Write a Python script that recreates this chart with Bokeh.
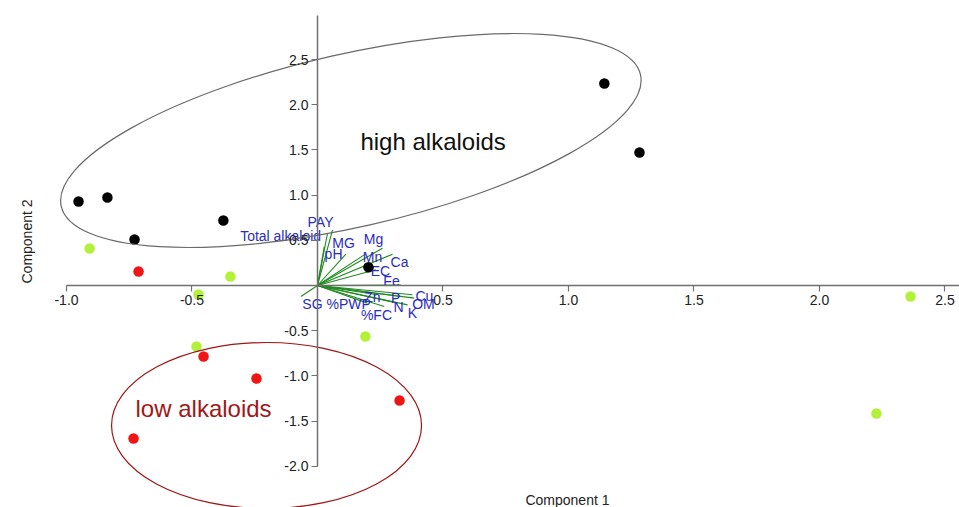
import math
from bokeh.plotting import figure
from bokeh.models import Range1d, FixedTicker
from bokeh.core.properties import value
from bokeh.embed import file_html
from bokeh.resources import INLINE

# ---- data ----
high_x = [-0.952, -0.837, -0.729, -0.375, 1.143, 1.283, 0.203]
high_y = [0.929, 0.973, 0.509, 0.719, 2.235, 1.471, 0.202]

mid_x = [-0.908, -0.347, -0.474, -0.482, 0.191, 2.363, 2.227]
mid_y = [0.409, 0.100, -0.100, -0.675, -0.564, -0.122, -1.416]

low_x = [-0.713, -0.454, -0.243, 0.327, -0.733]
low_y = [0.155, -0.785, -1.029, -1.272, -1.692]

var_names = ["PAY", "Total alkaloid", "pH", "MG", "Mg", "Ca", "Mn", "EC", "Fe",
             "Cu", "OM", "K", "N", "P", "Zn", "%FC", "%PWP", "SG"]
load_x = [0.060, 0.040, 0.027, 0.113, 0.259, 0.299, 0.186, 0.232, 0.332,
          0.378, 0.385, 0.359, 0.319, 0.332, 0.239, 0.266, 0.199, -0.066]
load_y = [0.616, 0.579, 0.431, 0.347, 0.413, 0.347, 0.339, 0.174, 0.005,
          -0.103, -0.140, -0.214, -0.195, -0.122, -0.103, -0.232, -0.195, -0.122]
label_x = [0.012, -0.147, 0.064, 0.104, 0.223, 0.327, 0.219, 0.251, 0.295,
           0.426, 0.422, 0.378, 0.323, 0.311, 0.219, 0.235, 0.124, -0.020]
label_y = [0.697, 0.553, 0.354, 0.465, 0.509, 0.265, 0.310, 0.155, 0.055,
           -0.111, -0.210, -0.299, -0.243, -0.133, -0.122, -0.321, -0.210, -0.210]

x_ticks = [-1.0, -0.5, 0.5, 1.0, 1.5, 2.0, 2.5]
x_tick_labels = ["-1.0", "-0.5", "0.5", "1.0", "1.5", "2.0", "2.5"]
y_ticks = [-2.0, -1.5, -1.0, -0.5, 0.5, 1.0, 1.5, 2.0, 2.5]
y_tick_labels = ["-2.0", "-1.5", "-1.0", "-0.5", "0.5", "1.0", "1.5", "2.0", "2.5"]

groups = ["high alkaloids", "low alkaloids"]
group_cx = [0.133, -0.203]
group_cy = [1.604, -1.549]
group_text_x = [0.171, -0.725]
group_text_y = [1.593, -1.360]

axis_titles = ["Component 1", "Component 2"]
axis_title_x = [0.996, -1.159]
axis_title_y = [-2.378, 0.487]

FONT = "Liberation Sans"

p = figure(width=959, height=507,
           x_range=Range1d(-1.263, 2.558), y_range=Range1d(-2.456, 3.153),
           output_backend="svg", toolbar_location=None,
           min_border=0)
p.grid.visible = False
p.outline_line_color = None
p.background_fill_color = "white"

for ax in (p.xaxis, p.yaxis):
    ax.fixed_location = 0
    ax.axis_line_color = "#707070"
    ax.axis_line_width = 1.5
    ax.major_tick_line_color = "#707070"
    ax.major_tick_line_width = 1.2
    ax.major_tick_out = 6
    ax.major_tick_in = 0
    ax.minor_tick_out = 0
    ax.minor_tick_in = 0
    ax.major_label_text_font = FONT
    ax.major_label_text_font_size = "14px"
    ax.major_label_text_color = "#222222"
    ax.major_label_standoff = 3

p.xaxis.ticker = FixedTicker(ticks=x_ticks)
p.xaxis.major_label_overrides = {t: l for t, l in zip(x_ticks, x_tick_labels)}
p.yaxis.ticker = FixedTicker(ticks=y_ticks)
p.yaxis.major_label_overrides = {t: l for t, l in zip(y_ticks, y_tick_labels)}
p.xaxis.bounds = (-1.0, 2.56)
p.yaxis.bounds = (-2.0, 2.99)

# loading vectors
n = len(var_names)
p.segment(x0=[0] * n, y0=[0] * n, x1=load_x, y1=load_y,
          line_color="#1f8a1f", line_width=1.1)
p.text(x=label_x, y=label_y, text=var_names, text_font=value(FONT),
       text_font_size="14px", text_color="#2b2bbf",
       text_align="center", text_baseline="middle")

# scores
p.scatter(high_x, high_y, size=10.5, fill_color="#000000", line_color=None)
p.scatter(mid_x, mid_y, size=10.5, fill_color="#b3f03a", line_color=None)
p.scatter(low_x, low_y, size=10.5, fill_color="#f01414", line_color=None)

# group ellipses
p.ellipse(x=group_cx[0:1], y=group_cy[0:1], width=594, height=173,
          width_units="screen", height_units="screen",
          angle=12.8, angle_units="deg",
          fill_color=None, line_color="#6a6a6a", line_width=1.2)
p.ellipse(x=group_cx[1:2], y=group_cy[1:2], width=310, height=166,
          width_units="screen", height_units="screen",
          fill_color=None, line_color="#a01515", line_width=1.2)

p.text(x=group_text_x[0:1], y=group_text_y[0:1], text=groups[0:1],
       text_font=value(FONT), text_font_size="24px", text_color="#111111",
       text_baseline="middle")
p.text(x=group_text_x[1:2], y=group_text_y[1:2], text=groups[1:2],
       text_font=value(FONT), text_font_size="24px", text_color="#a01818",
       text_baseline="middle")

# axis titles
p.text(x=axis_title_x[0:1], y=axis_title_y[0:1], text=axis_titles[0:1],
       text_font=value(FONT), text_font_size="14px", text_color="#222222",
       text_align="center", text_baseline="middle")
p.text(x=axis_title_x[1:2], y=axis_title_y[1:2], text=axis_titles[1:2],
       text_font=value(FONT), text_font_size="14px", text_color="#222222",
       text_align="center", text_baseline="middle", angle=math.pi / 2)

open("out.html", "w").write(file_html(p, INLINE))
